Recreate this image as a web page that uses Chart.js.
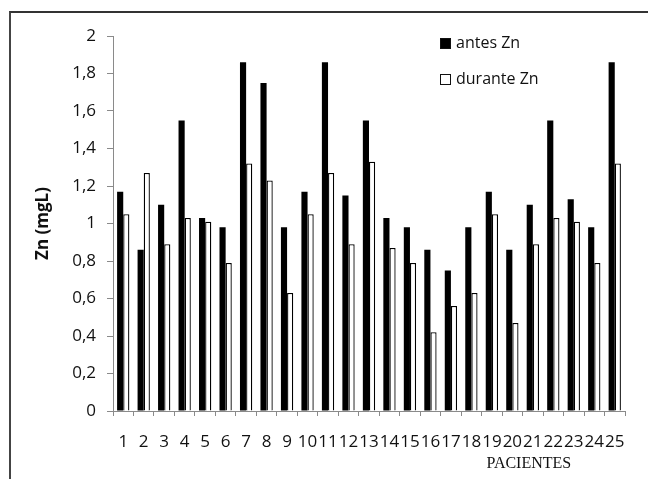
<!DOCTYPE html>
<html>
<head>
<meta charset="utf-8">
<script src="https://cdn.jsdelivr.net/npm/chart.js@4"></script>
<style>
    body { margin: 0; background: #fff; }
    #wrap { position: relative; width: 648px; height: 479px; overflow: hidden; }
    #frame { position: absolute; left: 9px; top: 11px; width: 700px; height: 520px;
             border-top: 2px solid #333; border-left: 2px solid #444; }
    .leg { position: absolute; left: 440px; font: 16px "Open Sans", sans-serif; color: #111;
           line-height: 16px; white-space: nowrap; }
    .leg span { display: inline-block; width: 9px; height: 9px; border: 1px solid #111;
                margin-right: 5px; vertical-align: -1px; }
</style>
</head>
<body>
<div id="wrap">
    <div id="frame"></div>
    <canvas id="znChart" width="648" height="479"></canvas>
    <div class="leg" style="top:34px"><span style="background:#000"></span>antes Zn</div>
    <div class="leg" style="top:70px"><span style="background:#fff"></span>durante Zn</div>
</div>
<script>
// Zn levels per patient
const pacientes = ['1','2','3','4','5','6','7','8','9','10','11','12','13',
                   '14','15','16','17','18','19','20','21','22','23','24','25'];
const antesZn = [1.17, 0.86, 1.10, 1.55, 1.03, 0.98, 1.86, 1.75, 0.98, 1.17, 1.86, 1.15, 1.55,
                 1.03, 0.98, 0.86, 0.75, 0.98, 1.17, 0.86, 1.10, 1.55, 1.13, 0.98, 1.86];
const duranteZn = [1.05, 1.27, 0.89, 1.03, 1.01, 0.79, 1.32, 1.23, 0.63, 1.05, 1.27, 0.89, 1.33,
                   0.87, 0.79, 0.42, 0.56, 0.63, 1.05, 0.47, 0.89, 1.03, 1.01, 0.79, 1.32];
const yTicks = [0, 0.2, 0.4, 0.6, 0.8, 1, 1.2, 1.4, 1.6, 1.8, 2];

const axisColor = '#8a8a8a';

// "PACIENTES" sits under the right part of the axis, not centred
const pacientesLabel = {
    id: 'pacientesLabel',
    afterDraw(chart) {
        const x = chart.scales.x;
        const ctx = chart.ctx;
        ctx.save();
        ctx.font = '16px "Liberation Serif", serif';
        ctx.fillStyle = '#111';
        ctx.textAlign = 'center';
        ctx.textBaseline = 'middle';
        ctx.fillText('PACIENTES', x.getPixelForValue(20) - 4, 464);
        ctx.restore();
    }
};

const ctx = document.getElementById('znChart').getContext('2d');
new Chart(ctx, {
    type: 'bar',
    data: {
        labels: pacientes,
        datasets: [
            {
                label: 'antes Zn',
                data: antesZn,
                backgroundColor: '#000',
                borderWidth: 0,
                categoryPercentage: 0.6,
                barPercentage: 1.0
            },
            {
                label: 'durante Zn',
                data: duranteZn,
                backgroundColor: '#fff',
                borderColor: '#000',
                borderWidth: 1.3,
                categoryPercentage: 0.6,
                barPercentage: 1.0
            }
        ]
    },
    options: {
        responsive: false,
        animation: false,
        layout: { padding: { left: 29, top: 36, right: 23, bottom: 0 } },
        plugins: { legend: { display: false }, tooltip: { enabled: false } },
        scales: {
            x: {
                afterFit: s => { s.height = 68; },
                grid: { display: true, drawOnChartArea: false, tickLength: 5, color: axisColor },
                border: { color: axisColor, width: 1 },
                ticks: {
                    autoSkip: false, maxRotation: 0, padding: 16, color: '#111',
                    font: { family: '"Open Sans", sans-serif', size: 17 }
                }
            },
            y: {
                min: 0,
                max: 2,
                afterFit: s => { s.width = 84; },
                afterBuildTicks: s => { s.ticks = yTicks.map(v => ({ value: v })); },
                grid: { display: true, drawOnChartArea: false, tickLength: 6, color: axisColor },
                border: { color: axisColor, width: 1 },
                ticks: {
                    padding: 11, color: '#111',
                    font: { family: '"Open Sans", sans-serif', size: 17 }
                    ,
                    callback: v => String(+v.toFixed(1)).replace('.', ',')
                },
                title: {
                    display: true, text: 'Zn (mgL)', color: '#111',
                    font: { family: '"Open Sans", sans-serif', size: 17, weight: 'bold' }
                }
            }
        }
    },
    plugins: [pacientesLabel]
});
</script>
</body>
</html>
